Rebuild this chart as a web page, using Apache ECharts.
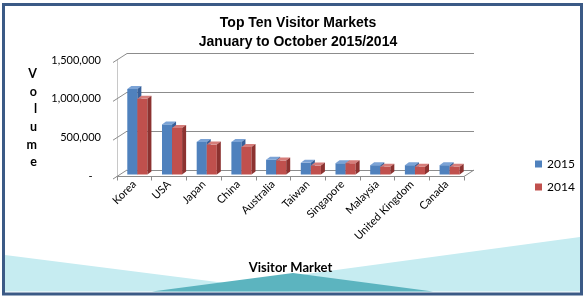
<!DOCTYPE html>
<html>
<head>
<meta charset="utf-8">
<script src="https://cdn.jsdelivr.net/npm/echarts@6/dist/echarts.min.js"></script>
<style>html,body{margin:0;padding:0;background:#fff;}#c{width:587px;height:299px;}</style>
</head>
<body>
<div id="c"></div>
<script>
var categories = ['Korea','USA','Japan','China','Australia','Taiwan','Singapore','Malaysia','United Kingdom','Canada'];
var values2015 = [1100000, 645000, 420000, 420000, 190000, 150000, 145000, 120000, 120000, 120000];
var values2014 = [975000, 600000, 385000, 355000, 180000, 115000, 145000, 100000, 100000, 100000];
var seriesNames = ['2015', '2014'];
var yTicks = [0, 500000, 1000000, 1500000];

var DX = 4, DY = 3;       // bar depth faces
var WX = 10, WY = 6.5;    // back wall offset
var colors = [
  {front:'#4F81BD', top:'#7BA3D6', side:'#37609A'},
  {front:'#C0504D', top:'#D67D7A', side:'#8C3230'}
];

function barRender(sIdx) {
  return function (params, api) {
    var idx = api.value(0), val = api.value(1);
    var p0 = api.coord([idx, 0]);
    var p1 = api.coord([idx, val]);
    var band = api.size([1, 0])[0];
    var w = band * 0.29;
    var shift = 3;
    var x0 = sIdx === 0 ? p0[0] + shift - w : p0[0] + shift;
    var yb = p0[1] - 2, yt = p1[1] - 2;
    var c = colors[sIdx];
    return {
      type: 'group',
      children: [
        {type:'rect', shape:{x:x0, y:yt, width:w, height:yb-yt}, style:{fill:c.front}},
        {type:'polygon', shape:{points:[[x0,yt],[x0+w,yt],[x0+w+DX,yt-DY],[x0+DX,yt-DY]]}, style:{fill:c.top}},
        {type:'polygon', shape:{points:[[x0+w,yt],[x0+w+DX,yt-DY],[x0+w+DX,yb-DY],[x0+w,yb]]}, style:{fill:c.side}}
      ]
    };
  };
}

var chart = echarts.init(document.getElementById('c'));
chart.setOption({
  animation: false,
  backgroundColor: '#fff',
  title: {
    text: 'Top Ten Visitor Markets\nJanuary to October 2015/2014',
    left: 293, top: 9, textAlign: 'center',
    textStyle: {fontFamily:'Liberation Sans', fontWeight:'bold', fontSize:14, lineHeight:19, color:'#000'}
  },
  legend: {
    orient: 'vertical', left: 530, top: 153,
    itemWidth: 7, itemHeight: 7, itemGap: 11, icon: 'rect',
    data: seriesNames,
    textStyle: {fontFamily:'Lato', fontSize:12, color:'#000'}
  },
  graphic: [
    {type:'polygon', z:-10, shape:{points:[[5,255],[292,291.5],[5,291.5]]}, style:{fill:'#C6ECF1'}},
    {type:'polygon', z:-10, shape:{points:[[580,237],[177,291.5],[580,291.5]]}, style:{fill:'#C6ECF1'}},
    {type:'polygon', z:-9, shape:{points:[[152,291.5],[293,273],[433,291.5]]}, style:{fill:'#5CB4BF'}},
    {type:'rect', z:100, shape:{x:3.5, y:4.5, width:578, height:289.5}, style:{fill:'none', stroke:'#3B5A86', lineWidth:3}}
  ],
  grid: [
    {left:117, right:123, top:60, bottom:122.5},
    {left:117+WX, right:123-WX, top:60-WY, bottom:122.5+WY}
  ],
  xAxis: [
    {type:'category', gridIndex:0, data:categories,
     axisLine:{show:true, lineStyle:{color:'#8c8c8c', width:1}},
     axisTick:{show:true, length:4, lineStyle:{color:'#8c8c8c'}},
     axisLabel:{rotate:45, interval:0, margin:6, fontFamily:'Lato', fontSize:11, color:'#000'},
     name:'Visitor Market', nameLocation:'middle', nameGap:85,
     nameTextStyle:{fontFamily:'Lato', fontWeight:'bold', fontSize:13, color:'#000'}},
    {type:'category', gridIndex:1, data:categories, show:false}
  ],
  yAxis: [
    {type:'value', gridIndex:0, min:0, max:1500000, interval:500000,
     splitLine:{show:false},
     axisLine:{show:true, lineStyle:{color:'#c8c8c8'}},
     axisTick:{show:false},
     axisLabel:{margin:16, fontFamily:'Lato', fontSize:11, color:'#000',
       formatter:function(v){ return v === 0 ? '-   ' : v.toLocaleString('en-US'); }},
     name:'V\no\nl\nu\nm\ne', nameLocation:'middle', nameRotate:0, nameGap:80,
     nameTextStyle:{fontFamily:'Lato', fontWeight:'bold', fontSize:12.5, lineHeight:17.6, color:'#000'}},
    {type:'value', gridIndex:1, min:0, max:1500000, interval:500000,
     axisLine:{show:false}, axisTick:{show:false}, axisLabel:{show:false},
     splitLine:{show:true, lineStyle:{color:'#8c8c8c', width:1}}}
  ],
  series: [
    {type:'custom', name:'wall', xAxisIndex:0, yAxisIndex:0, silent:true, clip:false, z:1,
     data: yTicks.map(function(v){ return [0, v]; }),
     renderItem: function (params, api) {
       var v = api.value(1);
       var p = api.coord([0, v]);
       var half = api.size([1, 0])[0] / 2;
       var x = p[0] - half, y = p[1];
       var ch = [{type:'line', shape:{x1:x-4, y1:y+2.5, x2:x+WX, y2:y-WY}, style:{stroke:'#8c8c8c', lineWidth:1}}];
       if (v === 0) {
         var pr = api.coord([categories.length - 1, 0]);
         var xr = pr[0] + half;
         ch.push({type:'line', shape:{x1:xr, y1:y, x2:xr+WX, y2:y-WY}, style:{stroke:'#8c8c8c', lineWidth:1}});
       }
       return {type:'group', children:ch};
     }},
    {type:'custom', name:seriesNames[0], xAxisIndex:0, yAxisIndex:0, z:3,
     itemStyle:{color:colors[0].front},
     encode:{x:0, y:1},
     data: values2015.map(function(v, i){ return [i, v]; }),
     renderItem: barRender(0)},
    {type:'custom', name:seriesNames[1], xAxisIndex:0, yAxisIndex:0, z:4,
     itemStyle:{color:colors[1].front},
     encode:{x:0, y:1},
     data: values2014.map(function(v, i){ return [i, v]; }),
     renderItem: barRender(1)}
  ]
});
</script>
</body>
</html>
